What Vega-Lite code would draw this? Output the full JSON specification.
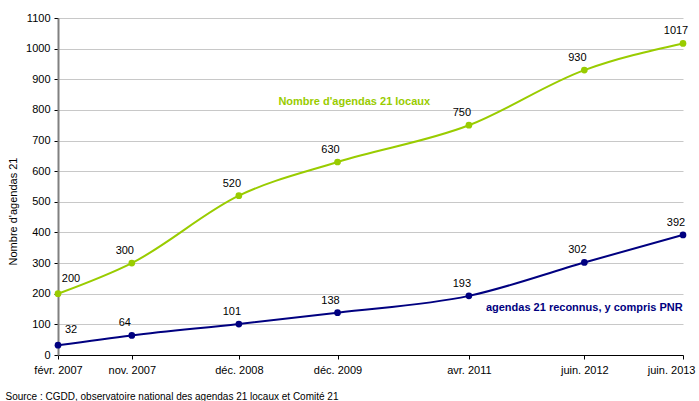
{
  "$schema": "https://vega.github.io/schema/vega-lite/v6.json",
  "width": 625,
  "height": 337,
  "autosize": {"type": "none"},
  "padding": {"left": 58, "top": 18, "right": 16, "bottom": 46},
  "background": "white",
  "config": {
    "view": {"stroke": null},
    "font": "Liberation Sans",
    "axis": {"labelFont": "Liberation Sans", "titleFont": "Liberation Sans", "labelColor": "#000000", "titleColor": "#000000"}
  },
  "data": {
    "values": [
      {"series": "locaux", "date": "2007-02-01T00:00:00", "value": 200},
      {"series": "locaux", "date": "2007-11-01T00:00:00", "value": 300},
      {"series": "locaux", "date": "2008-12-01T00:00:00", "value": 520},
      {"series": "locaux", "date": "2009-12-01T00:00:00", "value": 630},
      {"series": "locaux", "date": "2011-04-01T00:00:00", "value": 750},
      {"series": "locaux", "date": "2012-06-01T00:00:00", "value": 930},
      {"series": "locaux", "date": "2013-06-01T00:00:00", "value": 1017},
      {"series": "reconnus", "date": "2007-02-01T00:00:00", "value": 32},
      {"series": "reconnus", "date": "2007-11-01T00:00:00", "value": 64},
      {"series": "reconnus", "date": "2008-12-01T00:00:00", "value": 101},
      {"series": "reconnus", "date": "2009-12-01T00:00:00", "value": 138},
      {"series": "reconnus", "date": "2011-04-01T00:00:00", "value": 193},
      {"series": "reconnus", "date": "2012-06-01T00:00:00", "value": 302},
      {"series": "reconnus", "date": "2013-06-01T00:00:00", "value": 392}
    ]
  },
  "encoding": {
    "x": {
      "field": "date",
      "type": "temporal",
      "scale": {"domain": [{"year": 2007, "month": 2, "date": 1}, {"year": 2013, "month": 6, "date": 1}]},
      "axis": {
        "values": [
          {"year": 2007, "month": 2, "date": 1},
          {"year": 2007, "month": 11, "date": 1},
          {"year": 2008, "month": 12, "date": 1},
          {"year": 2009, "month": 12, "date": 1},
          {"year": 2011, "month": 4, "date": 1},
          {"year": 2012, "month": 6, "date": 1},
          {"year": 2013, "month": 6, "date": 1}
        ],
        "labelExpr": "['janv.','févr.','mars','avr.','mai','juin.','juil.','août','sept.','oct.','nov.','déc.'][month(datum.value)] + ' ' + year(datum.value)",
        "labelAlign": {"condition": {"test": "year(datum.value) == 2013", "value": "right"}, "value": "center"},
        "labelOffset": {"condition": {"test": "year(datum.value) == 2013", "value": 12}, "value": 0},
        "grid": false,
        "domainColor": "#000000",
        "domainWidth": 1,
        "tickColor": "#000000",
        "tickSize": 4,
        "labelPadding": 5,
        "labelFontSize": 11,
        "labelBound": false,
        "labelOverlap": false,
        "labelFlush": false,
        "title": "Source : CGDD, observatoire national des agendas 21 locaux et Comité 21",
        "titleFontSize": 10,
        "titleFontWeight": "normal",
        "titleAnchor": "start",
        "titleAlign": "left",
        "titleBaseline": "middle",
        "titleX": -53,
        "titleY": 41
      }
    },
    "y": {
      "field": "value",
      "type": "quantitative",
      "scale": {"domain": [0, 1100], "nice": false},
      "axis": {
        "values": [0, 100, 200, 300, 400, 500, 600, 700, 800, 900, 1000, 1100],
        "format": "d",
        "grid": true,
        "gridColor": "#c8c8c8",
        "gridWidth": 1,
        "domainColor": "#808080",
        "domainWidth": 2,
        "tickColor": "#000000",
        "tickSize": 4,
        "labelPadding": 4,
        "labelFontSize": 11,
        "title": "Nombre d'agendas 21",
        "titleFontSize": 11,
        "titleFontWeight": "normal",
        "titleX": -40,
        "titleY": 193
      }
    },
    "color": {
      "field": "series",
      "type": "nominal",
      "scale": {"domain": ["locaux", "reconnus"], "range": ["#99cc00", "#000080"]},
      "legend": null
    }
  },
  "layer": [
    {
      "mark": {"type": "line", "interpolate": "monotone", "strokeWidth": 2, "point": {"filled": true, "size": 45}}
    },
    {
      "transform": [{"filter": "month(datum.date) != 1 || year(datum.date) != 2007"}],
      "mark": {"type": "text", "fontSize": 11, "dx": -7, "dy": -12, "align": "center", "baseline": "middle"},
      "encoding": {"text": {"field": "value", "type": "quantitative", "format": "d"}, "color": {"value": "#000000"}}
    },
    {
      "transform": [{"filter": "month(datum.date) == 1 && year(datum.date) == 2007"}],
      "mark": {"type": "text", "fontSize": 11, "dx": 13, "dy": -15, "align": "center", "baseline": "middle"},
      "encoding": {"text": {"field": "value", "type": "quantitative", "format": "d"}, "color": {"value": "#000000"}}
    },
    {
      "data": {
        "values": [
          {"label": "Nombre d'agendas 21 locaux", "date": "2010-02-01T00:00:00", "value": 826, "series": "locaux"},
          {"label": "agendas 21 reconnus, y compris PNR", "date": "2012-06-01T00:00:00", "value": 153, "series": "reconnus"}
        ]
      },
      "mark": {"type": "text", "fontSize": 11, "fontWeight": "bold", "align": "center", "baseline": "middle"},
      "encoding": {"text": {"field": "label"}}
    }
  ]
}
